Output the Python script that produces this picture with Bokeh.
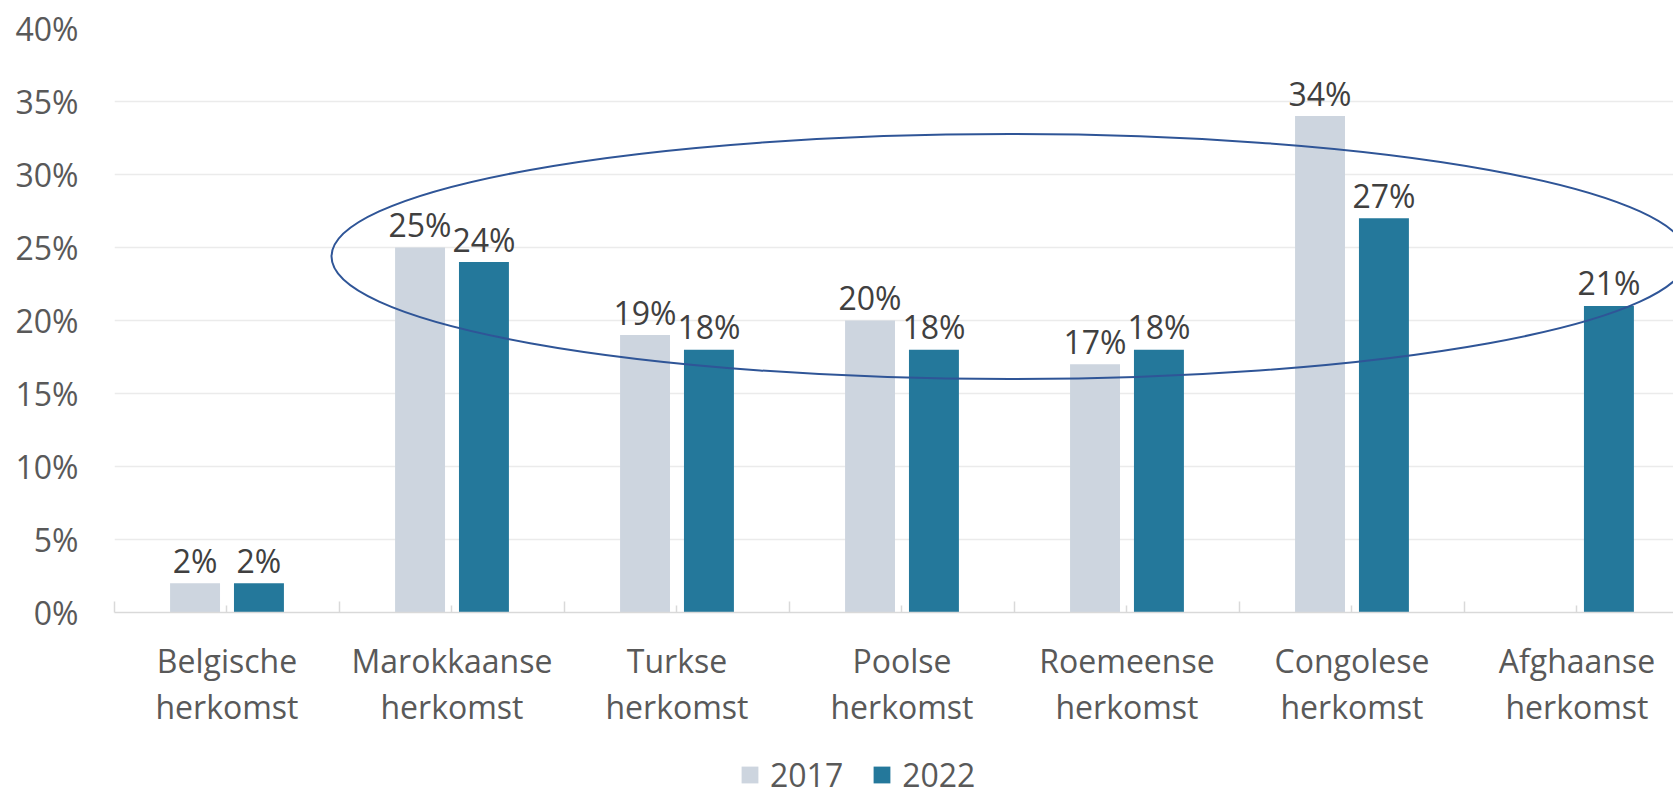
from bokeh.plotting import figure
from bokeh.layouts import column
from bokeh.models import ColumnDataSource, FixedTicker, Legend, LegendItem, Range1d, CustomJSTickFormatter
from bokeh.core.properties import value
from bokeh.embed import file_html
from bokeh.resources import INLINE

categories = ["Belgische\nherkomst", "Marokkaanse\nherkomst", "Turkse\nherkomst",
              "Poolse\nherkomst", "Roemeense\nherkomst", "Congolese\nherkomst",
              "Afghaanse\nherkomst"]
series_names = ["2017", "2022"]
values_2017 = [2, 25, 19, 20, 17, 34, None]
values_2022 = [2, 24, 18, 18, 18, 27, 21]
y_ticks = [0, 5, 10, 15, 20, 25, 30, 35, 40]
y_tick_labels = ["0%", "5%", "10%", "15%", "20%", "25%", "30%", "35%", "40%"]

COLOR_2017 = "#CDD5DF"
COLOR_2022 = "#24789B"
ELLIPSE_COLOR = "#2F5597"
FONT = "Open Sans"
FS = "32px"
BAR_W = 0.222
OFFSET = 0.142
X_END = 6.929

# highlight ellipse (data units: categories / percent)
ELL_X, ELL_Y, ELL_W, ELL_H = 3.978, 24.38, 6.027, 16.78


def make_source(vals, off):
    xs, ys, labels = [], [], []
    for i, v in enumerate(vals):
        if v is None:
            continue
        xs.append(i + 0.5 + off)
        ys.append(v)
        labels.append(f"{v}%")
    return ColumnDataSource(dict(x=xs, y=ys, label=labels))


s17 = make_source(values_2017, -OFFSET)
s22 = make_source(values_2022, OFFSET)

p = figure(width=1673, height=754, output_backend="svg", toolbar_location=None,
           x_range=Range1d(0, X_END), y_range=Range1d(0, 40),
           min_border_left=114, min_border_right=0, min_border_top=28,
           min_border_bottom=142)
p.outline_line_color = None
p.background_fill_color = "white"
p.border_fill_color = "white"

p.vbar(x="x", top="y", width=BAR_W, source=s17, fill_color=COLOR_2017, line_color=None)
p.vbar(x="x", top="y", width=BAR_W, source=s22, fill_color=COLOR_2022, line_color=None)

p.ellipse(x=ELL_X, y=ELL_Y, width=ELL_W, height=ELL_H, fill_color=None,
          line_color=ELLIPSE_COLOR, line_width=2)

for s in (s17, s22):
    p.text(x="x", y="y", text="label", source=s, text_align="center",
           text_baseline="alphabetic", y_offset=-23, text_font=value(FONT),
           text_font_size=FS, text_color="#404040")

# y axis
p.yaxis.ticker = FixedTicker(ticks=y_ticks)
p.yaxis.major_label_overrides = {t: l for t, l in zip(y_ticks, y_tick_labels)}
p.yaxis.axis_line_color = None
p.yaxis.major_tick_line_color = None
p.yaxis.minor_tick_line_color = None
p.yaxis.major_label_standoff = 30
p.yaxis.major_label_text_font = FONT
p.yaxis.major_label_text_font_size = FS
p.yaxis.major_label_text_color = "#595959"

p.ygrid.ticker = FixedTicker(ticks=y_ticks)
p.ygrid.grid_line_color = "#EBEBEB"
p.ygrid.grid_line_width = 1.5
p.xgrid.grid_line_color = None

# x axis
centers = [i + 0.5 for i in range(len(categories))]
p.xaxis.ticker = FixedTicker(ticks=centers, minor_ticks=list(range(len(categories) + 1)))
p.xaxis.formatter = CustomJSTickFormatter(args=dict(labels=categories),
                                          code="return labels[Math.floor(tick)];")
p.xaxis.axis_line_color = "#D9D9D9"
p.xaxis.axis_line_width = 1.5
p.xaxis.major_tick_line_color = "#D9D9D9"
p.xaxis.major_tick_line_width = 1.5
p.xaxis.major_tick_in = 7
p.xaxis.major_tick_out = 0
p.xaxis.minor_tick_line_color = "#D9D9D9"
p.xaxis.minor_tick_line_width = 1.5
p.xaxis.minor_tick_in = 11
p.xaxis.minor_tick_out = 0
p.xaxis.major_label_standoff = 26
p.xaxis.major_label_text_font = FONT
p.xaxis.major_label_text_font_size = FS
p.xaxis.major_label_text_color = "#595959"
p.xaxis.major_label_text_line_height = 1.09

# legend strip below the chart (its ranges keep the proxy bars out of view)
lf = figure(width=1673, height=42, output_backend="svg", toolbar_location=None,
            x_range=Range1d(-3, -2), y_range=Range1d(0, 1),
            x_axis_location=None, y_axis_location=None,
            min_border_left=114, min_border_right=0, min_border_top=0, min_border_bottom=0)
lf.outline_line_color = None
lf.xgrid.grid_line_color = None
lf.ygrid.grid_line_color = None
lf.background_fill_color = "white"
lf.border_fill_color = "white"
l17 = lf.vbar(x="x", top="y", width=BAR_W, source=s17, fill_color=COLOR_2017, line_color=None)
l22 = lf.vbar(x="x", top="y", width=BAR_W, source=s22, fill_color=COLOR_2022, line_color=None)

legend = Legend(items=[LegendItem(label=series_names[0], renderers=[l17], index=0),
                       LegendItem(label=series_names[1], renderers=[l22], index=0)],
                location=(625, 0), orientation="horizontal",
                glyph_width=21, glyph_height=21, label_standoff=10, spacing=28,
                padding=0, margin=0, border_line_color=None,
                background_fill_alpha=0, label_text_font=FONT,
                label_text_font_size=FS, label_text_color="#595959")
lf.add_layout(legend, "center")

layout = column(p, lf, spacing=0)
open("out.html", "w").write(file_html(layout, INLINE))
